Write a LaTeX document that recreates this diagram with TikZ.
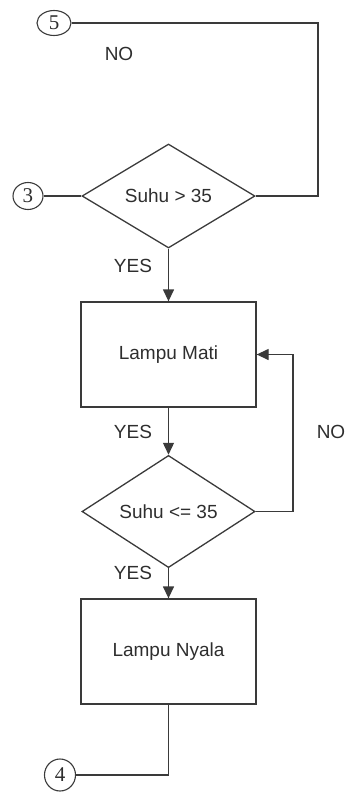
\documentclass[tikz,border=0pt]{standalone}
\usepackage{fontspec}
\setmainfont{Liberation Sans}
\newfontfamily\numfont{Liberation Serif}
\usetikzlibrary{shapes.geometric,arrows.meta}
\definecolor{ln}{HTML}{3A3A3A}
\definecolor{tx}{HTML}{2E2E2E}
\tikzset{
  conn/.style={draw=ln, line width=1.3pt},
  arr/.style={conn, -{Triangle[length=12pt,width=11pt]}},
  procbox/.style={draw=ln, line width=1.3pt, minimum width=175pt, minimum height=105pt, inner sep=0pt, text=tx, font=\fontsize{19pt}{21pt}\selectfont},
  decide/.style={draw=ln, line width=1.3pt, diamond, minimum width=173pt, minimum height=104pt, inner sep=0pt, text=tx, font=\fontsize{19pt}{21pt}\selectfont},
  conector/.style={draw=ln, line width=1.1pt, ellipse, inner sep=0pt, text=tx, font=\numfont\fontsize{21pt}{23pt}\selectfont},
  lbl/.style={text=tx, font=\fontsize{19pt}{21pt}\selectfont, inner sep=0pt}
}
\begin{document}
\begin{tikzpicture}[x=1pt,y=-1pt]
\useasboundingbox (0,0) rectangle (347,793);
\node[conector, minimum width=34pt, minimum height=25pt] (c5) at (54,23) {5};
\node[conector, minimum width=30pt, minimum height=27pt] (c3) at (28,196) {3};
\node[conector, minimum width=31pt, minimum height=32pt] (c4) at (60,775) {4};
\node[decide] (d1) at (168.5,196) {Suhu > 35};
\node[procbox] (m1) at (168.5,354.5) {Lampu Mati};
\node[decide] (d2) at (168.5,511.5) {Suhu <= 35};
\node[procbox] (m2) at (168.5,651.5) {Lampu Nyala};
\node[lbl] (no1) at (119,54) {NO};
\node[lbl] (yes1) at (133,266) {YES};
\node[lbl] (yes2) at (133,432) {YES};
\node[lbl] (no2) at (331,432) {NO};
\node[lbl] (yes3) at (133,573) {YES};
\coordinate (r1) at (318,23);
\coordinate (r2) at (293,354.5);
\draw[conn] (c5.east) -- (r1) |- (d1.east);
\draw[conn] (c3.east) -- (d1.west);
\draw[arr] (d1.south) -- (m1.north);
\draw[arr] (m1.south) -- (d2.north);
\draw[arr] (d2.east) -| (r2) -- (m1.east);
\draw[arr] (d2.south) -- (m2.north);
\draw[conn] (m2.south) |- (c4.east);
\end{tikzpicture}
\end{document}
